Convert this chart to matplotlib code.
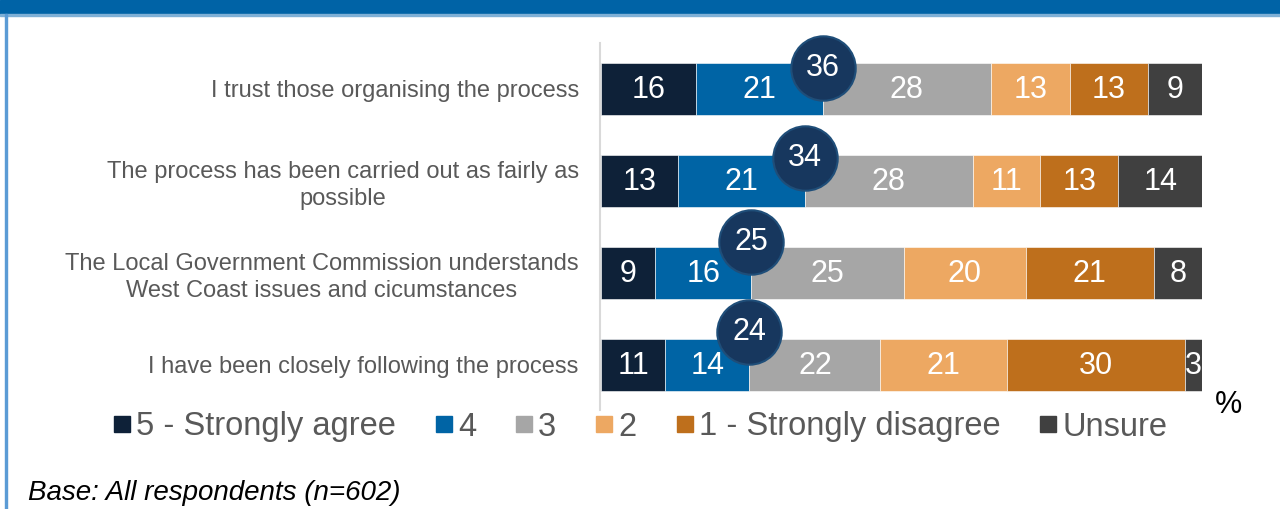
import matplotlib
matplotlib.use("Agg")
import matplotlib.pyplot as plt
from matplotlib.lines import Line2D
from matplotlib.patches import Rectangle

plt.rcParams['font.family'] = ['Liberation Sans', 'DejaVu Sans']

# data
statements = [
    "I trust those organising the process",
    "The process has been carried out as fairly as\npossible",
    "The Local Government Commission understands\nWest Coast issues and cicumstances",
    "I have been closely following the process",
]
categories = ["5 - Strongly agree", "4", "3", "2", "1 - Strongly disagree", "Unsure"]
values = [
    [15.8, 21.1, 28.0, 13.1, 13.0, 9.0],
    [12.8, 21.1, 28.0, 11.2, 13.0, 14.0],
    [9.0, 16.0, 25.4, 20.3, 21.3, 8.0],
    [10.7, 14.0, 21.8, 21.0, 29.6, 2.9],
]
labels = [
    [16, 21, 28, 13, 13, 9],
    [13, 21, 28, 11, 13, 14],
    [9, 16, 25, 20, 21, 8],
    [11, 14, 22, 21, 30, 3],
]
net_agree = [36, 34, 25, 24]

colors = ["#0E2138", "#0064A5", "#A6A6A6", "#EDA862", "#BE6F1C", "#404040"]
circle_dy = [-0.23, -0.25, -0.34, -0.36]

W, H = 1280, 509
fig = plt.figure(figsize=(W / 100, H / 100), dpi=100)

# header band + left border
fig.patches.append(Rectangle((0, 1 - 14 / H), 1, 14 / H, transform=fig.transFigure,
                             color="#0063A6", zorder=0))
fig.patches.append(Rectangle((0, 1 - 15.5 / H), 1, 1.5 / H, transform=fig.transFigure,
                             color="#7FB0D6", zorder=0))
fig.patches.append(Rectangle((5 / W, 0), 1.5 / W, 1 - 14 / H, transform=fig.transFigure,
                             color="#5B9BD5", zorder=0))

ax = fig.add_axes([601 / W, (H - 410) / H, 601 / W, 367 / H])
ax.set_xlim(0, 100)
ax.set_ylim(3.49, -0.5)
for s in ["top", "right", "bottom"]:
    ax.spines[s].set_visible(False)
ax.spines["left"].set_color("#D9D9D9")
ax.spines["left"].set_linewidth(1.5)
ax.spines["left"].set_position(("outward", 1))
ax.set_xticks([])
ax.set_yticks(range(len(statements)))
ax.set_yticklabels(statements, fontsize=17, color="#595959", multialignment="center",
                   linespacing=1.25)
ax.tick_params(axis="y", length=0, pad=15)

for i, row in enumerate(values):
    left = 0
    for j, v in enumerate(row):
        ax.barh(i, v, left=left, height=0.565, color=colors[j], edgecolor="white",
                linewidth=0.4, zorder=2)
        ax.text(left + v / 2, i + 0.01, str(labels[i][j]), ha="center", va="center",
                color="white", fontsize=22, zorder=3)
        left += v
    x_net = row[0] + row[1]
    ax.scatter([x_net], [i + circle_dy[i]], s=2150, color="#17375E",
               edgecolors="#1F4E79", linewidths=1.5, zorder=4, clip_on=False)
    ax.text(x_net, i + circle_dy[i], str(net_agree[i]), ha="center", va="center",
            color="white", fontsize=22, zorder=5)

handles = [Line2D([], [], marker="s", linestyle="none", markersize=11, color=c)
           for c in colors]
fig.legend(handles, categories, loc="center", bbox_to_anchor=(641 / W, 1 - 427 / H),
           ncol=6, frameon=False, fontsize=23.5, labelcolor="#595959",
           handlelength=0.45, handletextpad=0.2, columnspacing=1.25,
           borderaxespad=0, borderpad=0)

fig.text(1228 / W, 1 - 405 / H, "%", fontsize=22, color="black", ha="center", va="center")
fig.text(28 / W, 1 - 493 / H, "Base: All respondents (n=602)", fontsize=20,
         style="italic", color="black", ha="left", va="center")

fig.savefig("out.png", dpi=100)
